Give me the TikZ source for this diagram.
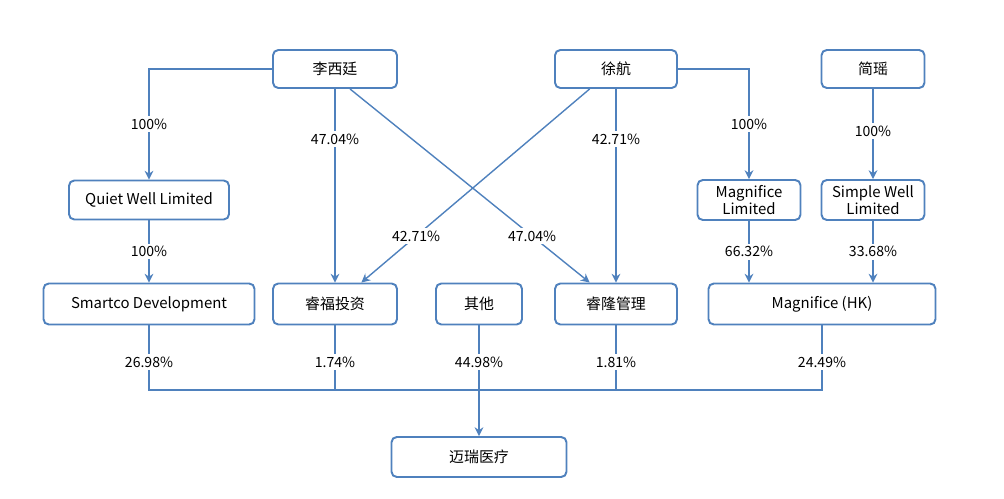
\documentclass[tikz,border=0pt]{standalone}
\usepackage{fontspec}
\setmainfont{Noto Sans CJK SC}
\usetikzlibrary{arrows.meta}
\definecolor{bl}{RGB}{79,129,189}
\begin{document}
\begin{tikzpicture}[x=0.02cm,y=-0.02cm,
 box/.style={draw=bl,line width=1.1pt,rounded corners=3pt,fill=white,font=\fontsize{8.5}{10}\selectfont,align=center,inner sep=0pt},
 lbl/.style={fill=white,font=\fontsize{8}{9}\selectfont,inner sep=1.5pt},
 ln/.style={draw=bl,line width=0.8pt},
 ar/.style={ln,-{Stealth[length=5pt,width=5pt]}}]
\useasboundingbox (0,0) rectangle (1004,499);
\node[box,minimum width=124*0.02cm,minimum height=38*0.02cm] (li) at (335,69) {李西廷};
\node[box,minimum width=122*0.02cm,minimum height=38*0.02cm] (xu) at (616,69) {徐航};
\node[box,minimum width=103*0.02cm,minimum height=38*0.02cm] (jian) at (873,69) {简瑶};
\node[box,minimum width=160*0.02cm,minimum height=39*0.02cm] (qw) at (149,200) {Quiet Well Limited};
\node[box,minimum width=103*0.02cm,minimum height=40*0.02cm] (ml) at (749,200) {Magnifice\\Limited};
\node[box,minimum width=103*0.02cm,minimum height=40*0.02cm] (sw) at (873,200) {Simple Well\\Limited};
\node[box,minimum width=211*0.02cm,minimum height=41*0.02cm] (sm) at (149,304) {Smartco Development};
\node[box,minimum width=124*0.02cm,minimum height=41*0.02cm] (rf) at (335,304) {睿福投资};
\node[box,minimum width=86*0.02cm,minimum height=41*0.02cm] (qt) at (479,304) {其他};
\node[box,minimum width=122*0.02cm,minimum height=41*0.02cm] (rl) at (616,304) {睿隆管理};
\node[box,minimum width=227*0.02cm,minimum height=41*0.02cm] (hk) at (822,304) {Magnifice (HK)};
\node[box,minimum width=175*0.02cm,minimum height=40*0.02cm] (mr) at (479,457) {迈瑞医疗};
% top level
\draw[ar] (li.west) -| node[lbl,pos=0.75]{100\%} (qw.north);
\draw[ar] (li.south) -- node[lbl,pos=0.26]{47.04\%} (rf.north);
\draw[ar] (li.south)+(15,0) coordinate (a1) (a1) -- node[lbl,pos=0.76]{47.04\%} ([xshift=-15]rl.north);
\draw[ar] ([xshift=-15]xu.south) -- node[lbl,pos=0.76]{42.71\%} ([xshift=15]rf.north);
\draw[ar] (xu.south) -- node[lbl,pos=0.26]{42.71\%} (rl.north);
\draw[ar] (xu.east) -| node[lbl,pos=0.75]{100\%} (ml.north);
\draw[ar] (jian.south) -- node[lbl,pos=0.47]{100\%} (sw.north);
\draw[ar] (qw.south) -- node[lbl]{100\%} (sm.north);
\draw[ar] (ml.south) -- node[lbl]{66.32\%} (ml.south|-hk.north);
\draw[ar] (sw.south) -- node[lbl]{33.68\%} (sw.south|-hk.north);
% bottom
\coordinate (j) at (479,390);
\draw[ln] (sm.south) -- (sm.south|-j) -- (hk.south|-j) -- (hk.south);
\draw[ln] (rf.south) -- (rf.south|-j);
\draw[ln] (rl.south) -- (rl.south|-j);
\draw[ar] (qt.south) -- (mr.north);
\foreach \n/\t in {sm/26.98,rf/1.74,qt/44.98,rl/1.81,hk/24.49}
  \node[lbl] at (\n.south|-0,362) {\t\%};
\end{tikzpicture}
\end{document}
